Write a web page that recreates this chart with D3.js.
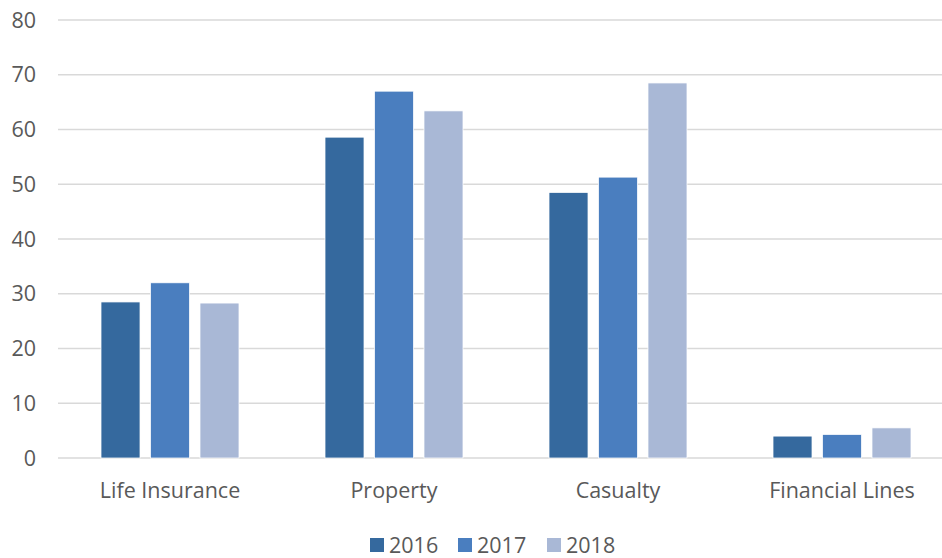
<!DOCTYPE html>
<html>
<head>
<meta charset="utf-8">
<style>
body { margin: 0; background: #fff; }
svg text { font-family: "Open Sans", "Noto Sans", sans-serif; fill: #595959; }
.grid line { stroke: #d9d9d9; stroke-width: 1.5px; }
</style>
</head>
<body>
<svg width="942" height="558"></svg>
<script src="https://d3js.org/d3.v7.min.js"></script>
<script>
var categories = ["Life Insurance", "Property", "Casualty", "Financial Lines"];
var years = ["2016", "2017", "2018"];
var values2016 = [28.5, 58.6, 48.5, 4.0];
var values2017 = [32.0, 67.0, 51.3, 4.3];
var values2018 = [28.3, 63.4, 68.5, 5.5];
var yTicks = [0, 10, 20, 30, 40, 50, 60, 70, 80];
var colors = ["#35699e", "#4a7ebf", "#a9b8d6"];

var series = [values2016, values2017, values2018];

var svg = d3.select("svg");

var x0 = d3.scaleBand().domain(categories).range([58, 954])
    .paddingInner(0.384).paddingOuter(0.192);
var x1 = d3.scaleBand().domain(years).range([0, x0.bandwidth()])
    .paddingInner(0.212);
var y = d3.scaleLinear().domain([0, 80]).range([458, 20]);

// gridlines
svg.append("g").attr("class", "grid")
  .selectAll("line").data(yTicks).enter().append("line")
    .attr("x1", 58).attr("x2", 942)
    .attr("y1", function(d) { return y(d); })
    .attr("y2", function(d) { return y(d); });

// y labels
svg.append("g").selectAll("text").data(yTicks).enter().append("text")
    .attr("x", 36).attr("y", function(d) { return y(d); })
    .attr("dy", "0.35em").attr("text-anchor", "end")
    .style("font-size", "21.5px")
    .text(function(d) { return d; });

// bars
var groups = svg.append("g").selectAll("g").data(categories).enter().append("g")
    .attr("transform", function(d) { return "translate(" + x0(d) + ",0)"; });

groups.selectAll("rect")
  .data(function(d, i) {
    return years.map(function(yr, j) { return { year: yr, value: series[j][i], idx: j }; });
  })
  .enter().append("rect")
    .attr("x", function(d) { return x1(d.year); })
    .attr("width", x1.bandwidth())
    .attr("y", function(d) { return y(d.value); })
    .attr("height", function(d) { return y(0) - y(d.value); })
    .attr("fill", function(d) { return colors[d.idx]; })
    .attr("stroke", "#fff")
    .attr("stroke-width", 0.75);

// x labels
svg.append("g").selectAll("text").data(categories).enter().append("text")
    .attr("x", function(d) { return x0(d) + x0.bandwidth() / 2; })
    .attr("y", 498)
    .attr("text-anchor", "middle")
    .style("font-size", "21.5px")
    .text(function(d) { return d; });

// legend
var legendX = [370, 458, 547];
var legend = svg.append("g").selectAll("g").data(years).enter().append("g")
    .attr("transform", function(d, i) { return "translate(" + legendX[i] + ",545)"; });
legend.append("rect")
    .attr("x", 0).attr("y", -7).attr("width", 14).attr("height", 14)
    .attr("fill", function(d, i) { return colors[i]; });
legend.append("text")
    .attr("x", 19).attr("y", 0).attr("dy", "0.35em")
    .style("font-size", "21.5px")
    .text(function(d) { return d; });
</script>
</body>
</html>
